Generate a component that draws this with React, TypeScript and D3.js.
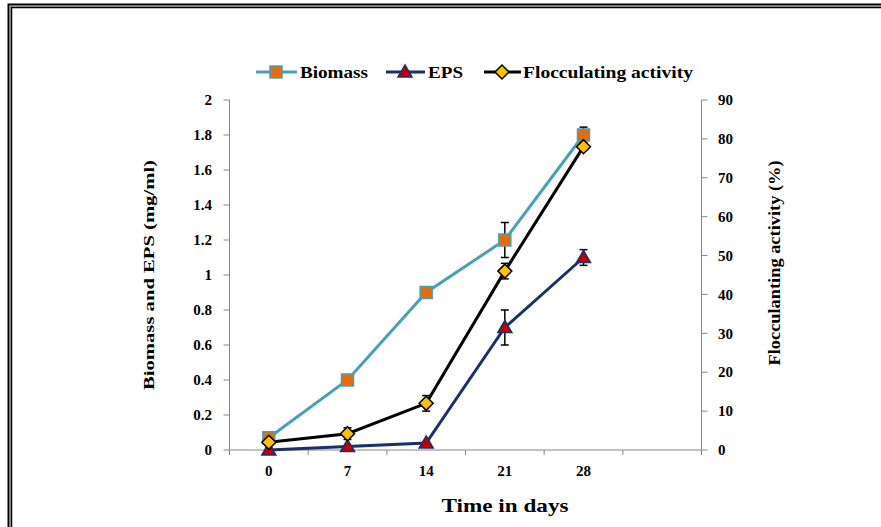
import React from "react";
import * as d3 from "d3";

const days = ["0", "7", "14", "21", "28", ""];
const biomass = [0.07, 0.4, 0.9, 1.2, 1.8];
const biomassErr = [0.02, 0.0, 0.0, 0.1, 0.045];
const eps = [0.0, 0.02, 0.04, 0.7, 1.1];
const epsErr = [0.0, 0.0, 0.0, 0.1, 0.045];
const floc = [2, 4.2, 12, 46, 78];
const flocErr = [1.5, 1.5, 2, 2, 0.5];
const leftTicks = [0, 0.2, 0.4, 0.6, 0.8, 1, 1.2, 1.4, 1.6, 1.8, 2];
const rightTicks = [0, 10, 20, 30, 40, 50, 60, 70, 80, 90];

const W = 881, H = 527;
const X0 = 229.5, X1 = 701.5, Y0 = 450, Y1 = 100;
const FONT = "Liberation Serif, Times New Roman, DejaVu Serif, serif";
const TS: React.CSSProperties = { fontFamily: FONT, fontWeight: 700 };

export default function App() {
  const x = d3.scaleBand().domain(days.map((d, i) => String(i))).range([X0, X1]);
  const cx = (i: number) => (x(String(i)) as number) + x.bandwidth() / 2;
  const yL = d3.scaleLinear().domain([0, 2]).range([Y0, Y1]);
  const yR = d3.scaleLinear().domain([0, 90]).range([Y0, Y1]);
  const line = (vals: number[], s: d3.ScaleLinear<number, number>) =>
    d3.line<number>().x((_, i) => cx(i)).y((v) => s(v))(vals) as string;

  const axisColor = "#868686";
  const bioColor = "#4A9FB5";
  const epsColor = "#1B2F6B";

  const errBars = (vals: number[], errs: number[], s: d3.ScaleLinear<number, number>, key: string) =>
    vals.map((v, i) =>
      errs[i] > 0 ? (
        <g key={key + i} stroke="#000" strokeWidth={1.5}>
          <line x1={cx(i)} x2={cx(i)} y1={s(v - errs[i])} y2={s(v + errs[i])} />
          <line x1={cx(i) - 4} x2={cx(i) + 4} y1={s(v - errs[i])} y2={s(v - errs[i])} />
          <line x1={cx(i) - 4} x2={cx(i) + 4} y1={s(v + errs[i])} y2={s(v + errs[i])} />
        </g>
      ) : null
    );

  const square = (px: number, py: number, k: string) => (
    <rect key={k} x={px - 6} y={py - 6} width={12} height={12} fill="#E46C0A" stroke={bioColor} strokeWidth={1.5} />
  );
  const tri = (px: number, py: number, k: string) => (
    <path key={k} d={`M${px},${py - 7}L${px + 7},${py + 5}L${px - 7},${py + 5}Z`} fill="#C00000" stroke={epsColor} strokeWidth={1.5} />
  );
  const diamond = (px: number, py: number, k: string) => (
    <path key={k} d={`M${px},${py - 7}L${px + 7},${py}L${px},${py + 7}L${px - 7},${py}Z`} fill="#FFC000" stroke="#000" strokeWidth={1.5} />
  );

  const bandEdges = d3.range(days.length + 1).map((i) => X0 + i * x.bandwidth());

  return (
    <div style={{ position: "absolute", left: 0, top: 0 }}>
      <svg width={W} height={H} style={{ display: "block", background: "#fff" }}>
        {/* frame */}
        <rect x={8.5} y={4.5} width={900} height={600} fill="none" stroke="#000" strokeWidth={2} />
        <rect x={10} y={6} width={900} height={600} fill="none" stroke="#777" strokeWidth={1} />
        <rect x={11.5} y={7.5} width={900} height={600} fill="none" stroke="#000" strokeWidth={1.5} />

        {/* axes */}
        <line x1={X0} x2={X0} y1={Y1} y2={Y0} stroke={axisColor} strokeWidth={1} />
        <line x1={X1} x2={X1} y1={Y1} y2={Y0} stroke={axisColor} strokeWidth={1} />
        <line x1={X0} x2={X1} y1={Y0} y2={Y0} stroke={axisColor} strokeWidth={1} />
        {leftTicks.map((t) => (
          <g key={"l" + t}>
            <line x1={X0 - 6} x2={X0} y1={yL(t)} y2={yL(t)} stroke={axisColor} />
            <text x={212} y={yL(t)} dy="0.35em" textAnchor="end" fontSize={15} style={TS}>{String(t)}</text>
          </g>
        ))}
        {rightTicks.map((t) => (
          <g key={"r" + t}>
            <line x1={X1} x2={X1 + 6} y1={yR(t)} y2={yR(t)} stroke={axisColor} />
            <text x={718} y={yR(t)} dy="0.35em" textAnchor="start" fontSize={15} style={TS}>{String(t)}</text>
          </g>
        ))}
        {bandEdges.map((bx, i) => (
          <line key={"xt" + i} x1={bx} x2={bx} y1={Y0} y2={Y0 + 5} stroke={axisColor} />
        ))}
        {days.map((d, i) => (
          <text key={"xl" + i} x={cx(i)} y={476} textAnchor="middle" fontSize={15} style={TS}>{d}</text>
        ))}

        {/* titles */}
        <text x={505} y={512} textAnchor="middle" fontSize={19} style={TS} textLength={127} lengthAdjust="spacingAndGlyphs">Time in days</text>
        <text transform={`translate(154,275) rotate(-90)`} textAnchor="middle" fontSize={15} style={TS} textLength={230} lengthAdjust="spacingAndGlyphs">Biomass and EPS (mg/ml)</text>
        <text transform={`translate(780,263) rotate(-90)`} textAnchor="middle" fontSize={17} style={TS} textLength={205} lengthAdjust="spacingAndGlyphs">Flocculanting activity (%)</text>

        {/* lines */}
        <path d={line(biomass, yL)} fill="none" stroke={bioColor} strokeWidth={3} />
        <path d={line(eps, yL)} fill="none" stroke={epsColor} strokeWidth={3} />
        <path d={line(floc, yR)} fill="none" stroke="#000" strokeWidth={3} />

        {errBars(biomass, biomassErr, yL, "be")}
        {errBars(eps, epsErr, yL, "ee")}
        {errBars(floc, flocErr, yR, "fe")}

        {biomass.map((v, i) => square(cx(i), yL(v), "bm" + i))}
        {eps.map((v, i) => tri(cx(i), yL(v), "em" + i))}
        {floc.map((v, i) => diamond(cx(i), yR(v), "fm" + i))}

        {/* legend */}
        <g>
          <line x1={256} x2={297} y1={72} y2={72} stroke={bioColor} strokeWidth={3} />
          {square(276, 72, "lg1")}
          <text x={300} y={72} dy="0.35em" fontSize={16} style={TS} textLength={68} lengthAdjust="spacingAndGlyphs">Biomass</text>
          <line x1={386} x2={425} y1={72} y2={72} stroke={epsColor} strokeWidth={3} />
          {tri(405, 72, "lg2")}
          <text x={428} y={72} dy="0.35em" fontSize={16} style={TS} textLength={35} lengthAdjust="spacingAndGlyphs">EPS</text>
          <line x1={484} x2={521} y1={72} y2={72} stroke="#000" strokeWidth={3} />
          {diamond(502, 72, "lg3")}
          <text x={523} y={72} dy="0.35em" fontSize={16} style={TS} textLength={170} lengthAdjust="spacingAndGlyphs">Flocculating activity</text>
        </g>
      </svg>
    </div>
  );
}
